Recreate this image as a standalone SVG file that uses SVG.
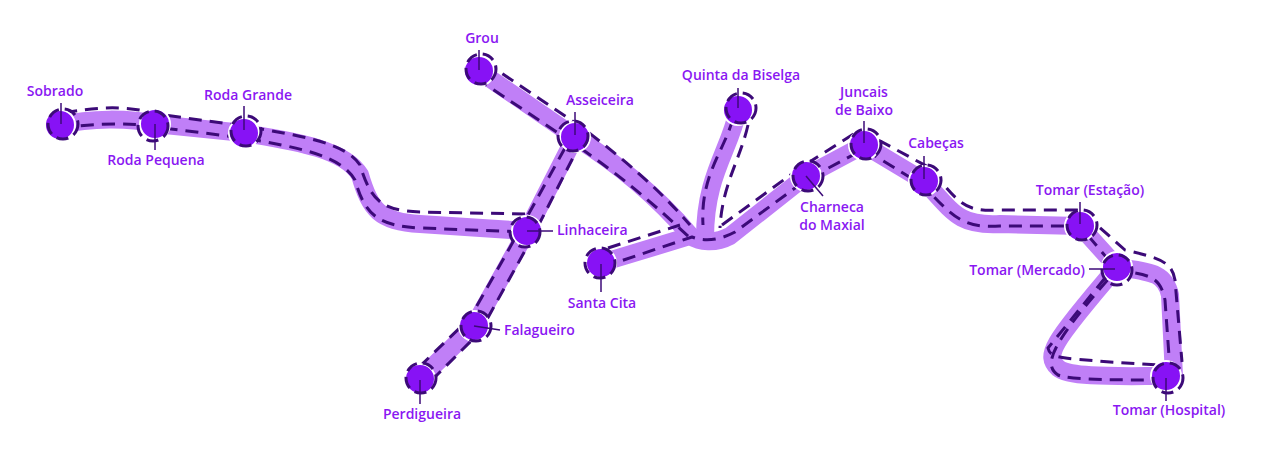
<svg xmlns="http://www.w3.org/2000/svg" width="1264" height="462" viewBox="0 0 1264 462">
<style>
.thick{fill:none;stroke:#c07ff7;stroke-width:18;stroke-linecap:round;stroke-linejoin:round}
.dash{fill:none;stroke:#3c0a78;stroke-width:3;stroke-dasharray:13 8;stroke-linejoin:round}
.node{fill:#8712f5;stroke:#fff;stroke-width:2}
.ring{fill:none;stroke:#3c0a78;stroke-width:3;stroke-dasharray:12 6}
.lbl{font-family:"Open Sans",sans-serif;font-weight:600;font-size:14px;fill:#8a17f2}
.lead{stroke:#3c0a78;stroke-width:1.5}
</style>
<rect width="1264" height="462" fill="#fff"/>
<g id="connectors">
<path class="thick" d="M60,125 C90,118 130,118 155,124 L244,133 C300,142 345,150 360,175 C370,210 380,222 420,224 L527,231"/>
<path class="thick" d="M479,71 L575,137 C620,165 660,200 690,235"/>
<path class="thick" d="M575,137 L527,231 L474,326 L420,379"/>
<path class="thick" d="M738,110 C730,150 705,175 705,238"/>
<path class="thick" d="M601,263 L690,236 C700,242 715,244 730,236 L806,176 L864,145 L924,181 C955,215 960,226 1000,224 L1080,226 L1117,267 C1150,272 1165,272 1170,295 L1174,376 L1166,376 C1120,376 1070,378 1058,368 C1045,355 1050,345 1117,267"/>
<path class="dash" d="M64,113 C100,106 130,106 157,114 L244,126 C300,136 345,142 360,165 C372,205 385,210 420,212 L527,214"/>
<path class="dash" d="M60,128 C90,124 130,122 155,127 L244,138 C300,148 340,155 355,180 C365,215 378,226 420,228 L527,232"/>
<path class="dash" d="M485,62 L580,126 C625,160 660,190 690,225"/>
<path class="dash" d="M476,78 L573,143 C620,175 655,205 690,238"/>
<path class="dash" d="M565,148 L522,226 L470,318 L416,370"/>
<path class="dash" d="M582,140 L532,238 L480,332 L426,386"/>
<path class="dash" d="M733,118 C725,150 700,175 703,225"/>
<path class="dash" d="M748,125 C740,160 722,185 720,228"/>
<path class="dash" d="M608,248 L680,225"/>
<path class="dash" d="M603,267 L692,237 C705,242 720,240 735,232 L806,180 L864,149 L924,186 C955,220 965,228 1000,226 L1080,226 L1117,270 C1148,275 1160,275 1165,300 L1170,370 L1166,380 C1120,380 1070,380 1058,375 C1043,365 1050,345 1112,275"/>
<path class="dash" d="M722,225 L800,168 L860,130 L930,168 C960,205 965,212 1000,210 L1080,210 L1125,250 C1160,258 1172,262 1175,280 L1182,362"/>
<path class="dash" d="M1105,278 L1048,348 C1050,358 1060,358 1110,362 L1158,365"/>
</g>
<g id="n-sobrado"><circle class="node" cx="60" cy="125" r="15"/><circle class="ring" cx="63" cy="124" r="15"/><line class="lead" x1="61" y1="103" x2="61" y2="124"/><text class="lbl" x="55" y="96" text-anchor="middle">Sobrado</text></g>
<g id="n-rodapequena"><circle class="node" cx="155" cy="124" r="15"/><circle class="ring" cx="153" cy="126" r="15"/><line class="lead" x1="155" y1="124" x2="155" y2="150"/><text class="lbl" x="156" y="165" text-anchor="middle">Roda Pequena</text></g>
<g id="n-rodagrande"><circle class="node" cx="244" cy="133" r="15"/><circle class="ring" cx="246" cy="131" r="15"/><line class="lead" x1="244" y1="106" x2="244" y2="130"/><text class="lbl" x="248" y="100" text-anchor="middle">Roda Grande</text></g>
<g id="n-grou"><circle class="node" cx="479" cy="71" r="15"/><circle class="ring" cx="481" cy="69" r="15"/><line class="lead" x1="479" y1="50" x2="479" y2="70"/><text class="lbl" x="482" y="43" text-anchor="middle">Grou</text></g>
<g id="n-asseiceira"><circle class="node" cx="575" cy="137" r="15"/><circle class="ring" cx="573" cy="136" r="15"/><line class="lead" x1="575" y1="112" x2="575" y2="135"/><text class="lbl" x="600" y="105" text-anchor="middle">Asseiceira</text></g>
<g id="n-linhaceira"><circle class="node" cx="527" cy="231" r="15"/><circle class="ring" cx="525" cy="232" r="15"/><line class="lead" x1="527" y1="231" x2="553" y2="231"/><text class="lbl" x="557" y="235">Linhaceira</text></g>
<g id="n-falagueiro"><circle class="node" cx="474" cy="326" r="15"/><circle class="ring" cx="476" cy="326" r="15"/><line class="lead" x1="474" y1="326" x2="500" y2="330"/><text class="lbl" x="504" y="335">Falagueiro</text></g>
<g id="n-perdigueira"><circle class="node" cx="420" cy="379" r="15"/><circle class="ring" cx="421" cy="378" r="15"/><line class="lead" x1="420" y1="380" x2="420" y2="404"/><text class="lbl" x="422" y="419" text-anchor="middle">Perdigueira</text></g>
<g id="n-santacita"><circle class="node" cx="601" cy="263" r="15"/><circle class="ring" cx="600" cy="263" r="15"/><line class="lead" x1="601" y1="264" x2="601" y2="292"/><text class="lbl" x="602" y="308" text-anchor="middle">Santa Cita</text></g>
<g id="n-quinta"><circle class="node" cx="738" cy="110" r="15"/><circle class="ring" cx="741" cy="108" r="15"/><line class="lead" x1="738" y1="88" x2="738" y2="108"/><text class="lbl" x="741" y="80" text-anchor="middle">Quinta da Biselga</text></g>
<g id="n-charneca"><circle class="node" cx="806" cy="176" r="15"/><circle class="ring" cx="808" cy="176" r="15"/><line class="lead" x1="806" y1="176" x2="823" y2="196"/><text class="lbl" x="832" y="212" text-anchor="middle">Charneca</text><text class="lbl" x="832" y="230" text-anchor="middle">do Maxial</text></g>
<g id="n-juncais"><circle class="node" cx="864" cy="145" r="15"/><circle class="ring" cx="866" cy="144" r="15"/><line class="lead" x1="864" y1="121" x2="864" y2="143"/><text class="lbl" x="864" y="97" text-anchor="middle">Juncais</text><text class="lbl" x="864" y="115" text-anchor="middle">de Baixo</text></g>
<g id="n-cabecas"><circle class="node" cx="924" cy="181" r="15"/><circle class="ring" cx="926" cy="180" r="15"/><line class="lead" x1="924" y1="156" x2="924" y2="179"/><text class="lbl" x="936" y="148" text-anchor="middle">Cabeças</text></g>
<g id="n-estacao"><circle class="node" cx="1080" cy="226" r="15"/><circle class="ring" cx="1082" cy="225" r="15"/><line class="lead" x1="1080" y1="202" x2="1080" y2="224"/><text class="lbl" x="1090" y="195" text-anchor="middle">Tomar (Estação)</text></g>
<g id="n-mercado"><circle class="node" cx="1117" cy="267" r="15"/><circle class="ring" cx="1117" cy="270" r="15"/><line class="lead" x1="1089" y1="269" x2="1115" y2="269"/><text class="lbl" x="1085" y="275" text-anchor="end">Tomar (Mercado)</text></g>
<g id="n-hospital"><circle class="node" cx="1166" cy="376" r="15"/><circle class="ring" cx="1168" cy="378" r="15"/><line class="lead" x1="1166" y1="378" x2="1166" y2="401"/><text class="lbl" x="1169" y="415" text-anchor="middle">Tomar (Hospital)</text></g>
</svg>
